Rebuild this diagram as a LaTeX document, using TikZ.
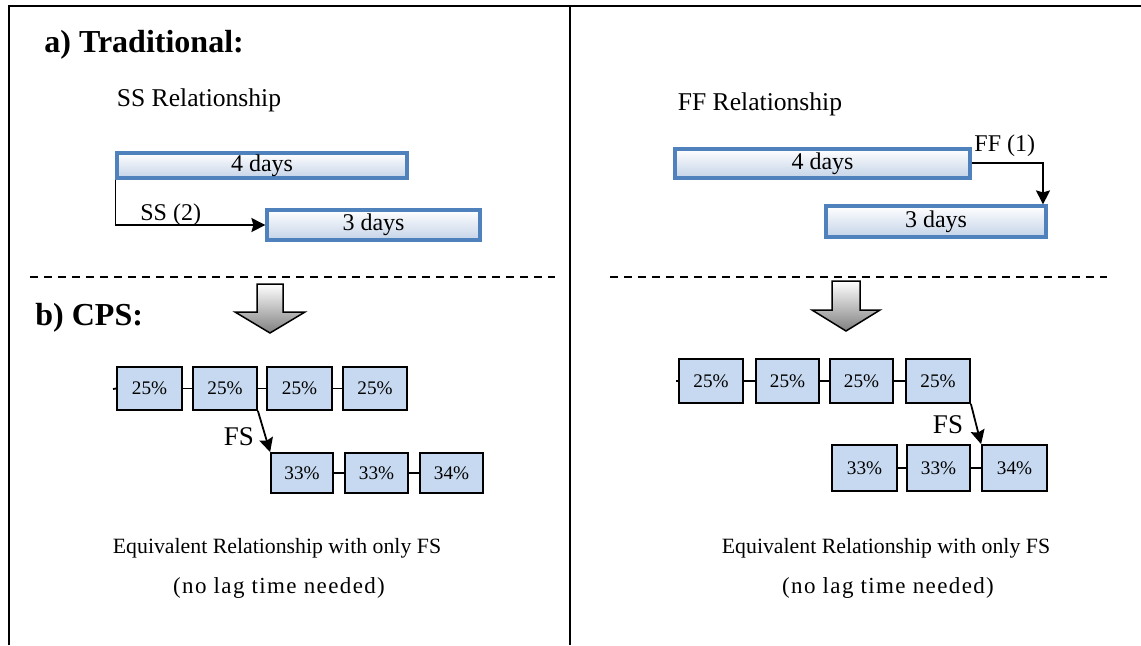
\documentclass[tikz,border=0pt]{standalone}
\usepackage{fontspec}
\setmainfont{Liberation Serif}
\newfontfamily\widecaption[LetterSpace=6]{Liberation Serif}
\usetikzlibrary{arrows.meta,fit}
\definecolor{barblue}{RGB}{79,129,189}
\definecolor{barlow}{RGB}{196,211,232}
\definecolor{cellblue}{RGB}{198,217,240}
\tikzset{
  frameline/.style={line width=1.1pt},
  bar/.style={draw=barblue, line width=1.6pt, top color=white, bottom color=barlow,
              inner sep=0pt},
  bartext/.style={font=\fontsize{12}{14}\selectfont, inner sep=0pt},
  cell/.style={draw=black, line width=0.9pt, fill=cellblue, inner sep=0pt},
  celltext/.style={font=\fontsize{9.6}{11}\selectfont, inner sep=0pt},
  link/.style={line width=0.9pt},
  rel/.style={line width=0.9pt, -{Stealth[length=7pt,width=7pt,inset=1pt]}},
  txt/.style={font=\fontsize{12}{14}\selectfont, inner sep=0pt},
  subtitle/.style={font=\fontsize{12.8}{15}\selectfont, inner sep=0pt},
  caption/.style={font=\fontsize{10.9}{13}\selectfont, inner sep=0pt},
  widecap/.style={font=\widecaption\fontsize{11.5}{13}\selectfont, inner sep=0pt},
  fslabel/.style={font=\fontsize{13.5}{15}\selectfont, inner sep=0pt},
  heading/.style={font=\bfseries\fontsize{16}{18}\selectfont, inner sep=0pt, anchor=west},
  sep/.style={line width=0.6pt, dash pattern=on 4pt off 3pt},
  bigarrow/.style={draw=black, line width=0.75pt, top color=white, bottom color=black!50}
}
\begin{document}
\begin{tikzpicture}[x=0.5pt,y=-0.5pt]
\useasboundingbox (0,0) rectangle (1141,645);

% outer frame and panel divider
\draw[frameline] (9,645) -- (9,6) -- (1141,6);
\draw[frameline] (570,6) -- (570,645);

% ---------- left panel: SS ----------
\node[heading] (ta) at (44,45) {a) Traditional:};
\node[subtitle] (ssr) at (199,100) {SS Relationship};
\node[bar, fit={(117,153) (407,178)}, label={[bartext]center:4 days}] (s4) {};
\node[bar, fit={(267,210) (480,240)}, label={[bartext]center:3 days}] (s3) {};
\coordinate (ssk) at (s4.south west |- s3.west);
\draw[rel] (s4.south west) -- (ssk) -- (s3.west);
\node[txt, anchor=base west] (ssl) at (140,220) {SS (2)};

% ---------- right panel: FF ----------
\node[subtitle] (ffr) at (760,104) {FF Relationship};
\node[bar, fit={(675,149) (970,178)}, label={[bartext]center:4 days}] (f4) {};
\node[bar, fit={(826,206) (1046,237)}, label={[bartext]center:3 days}] (f3) {};
\coordinate (ffk) at (1043,163);
\draw[rel] (f4.east |- ffk) -- (ffk) -- (ffk |- f3.north);
\node[txt, anchor=base west] (ffl) at (974,151) {FF (1)};

% dashed separators
\draw[sep] (30,277) -- (555,277);
\draw[sep] (610,277) -- (1107,277);

% transformation arrows
\path[bigarrow] (257,284) -- (283,284) -- (283,312) -- (305,312) -- (270,333)
  -- (235,312) -- (257,312) -- cycle;
\path[bigarrow] (832,281) -- (860,281) -- (860,310) -- (880,310) -- (846,331)
  -- (812,310) -- (832,310) -- cycle;

\node[heading] (cps) at (35,318) {b) CPS:};

% ---------- left panel: CPS cells ----------
\node[cell, fit={(117,367) (182,410)}, label={[celltext]center:25\%}] (l1) {};
\node[cell, fit={(193,367) (257,410)}, label={[celltext]center:25\%}] (l2) {};
\node[cell, fit={(267,367) (332,410)}, label={[celltext]center:25\%}] (l3) {};
\node[cell, fit={(343,367) (407,410)}, label={[celltext]center:25\%}] (l4) {};
\node[cell, fit={(271,453) (333,493)}, label={[celltext]center:33\%}] (l5) {};
\node[cell, fit={(345,453) (408,493)}, label={[celltext]center:33\%}] (l6) {};
\node[cell, fit={(420,453) (483,493)}, label={[celltext]center:34\%}] (l7) {};
\coordinate (lstub) at (113,389);
\draw[link] (lstub) -- (l1.west);
\draw[link] (l1) -- (l2);
\draw[link] (l2) -- (l3);
\draw[link] (l3) -- (l4);
\draw[link] (l5) -- (l6);
\draw[link] (l6) -- (l7);
\draw[rel] (l2.south east) -- (l5.north west);
\node[fslabel] (lfs) at (239,437) {FS};

% ---------- right panel: CPS cells ----------
\node[cell, fit={(679,359) (743,403)}, label={[celltext]center:25\%}] (r1) {};
\node[cell, fit={(756,359) (819,403)}, label={[celltext]center:25\%}] (r2) {};
\node[cell, fit={(830,359) (893,403)}, label={[celltext]center:25\%}] (r3) {};
\node[cell, fit={(906,359) (970,403)}, label={[celltext]center:25\%}] (r4) {};
\node[cell, fit={(832,445) (897,491)}, label={[celltext]center:33\%}] (r5) {};
\node[cell, fit={(907,445) (970,491)}, label={[celltext]center:33\%}] (r6) {};
\node[cell, fit={(982,445) (1047,491)}, label={[celltext]center:34\%}] (r7) {};
\coordinate (rstub) at (676,381);
\draw[link] (rstub) -- (r1.west);
\draw[link] (r1) -- (r2);
\draw[link] (r2) -- (r3);
\draw[link] (r3) -- (r4);
\draw[link] (r5) -- (r6);
\draw[link] (r6) -- (r7);
\draw[rel] (r4.south east) -- (r7.north west);
\node[fslabel] (rfs) at (948,425) {FS};

% ---------- captions ----------
\node[caption] (lc1) at (277,548) {Equivalent Relationship with only FS};
\node[widecap] (lc2) at (279,588) {(no lag time needed)};
\node[caption] (rc1) at (886,548) {Equivalent Relationship with only FS};
\node[widecap] (rc2) at (888,588) {(no lag time needed)};
\end{tikzpicture}
\end{document}
